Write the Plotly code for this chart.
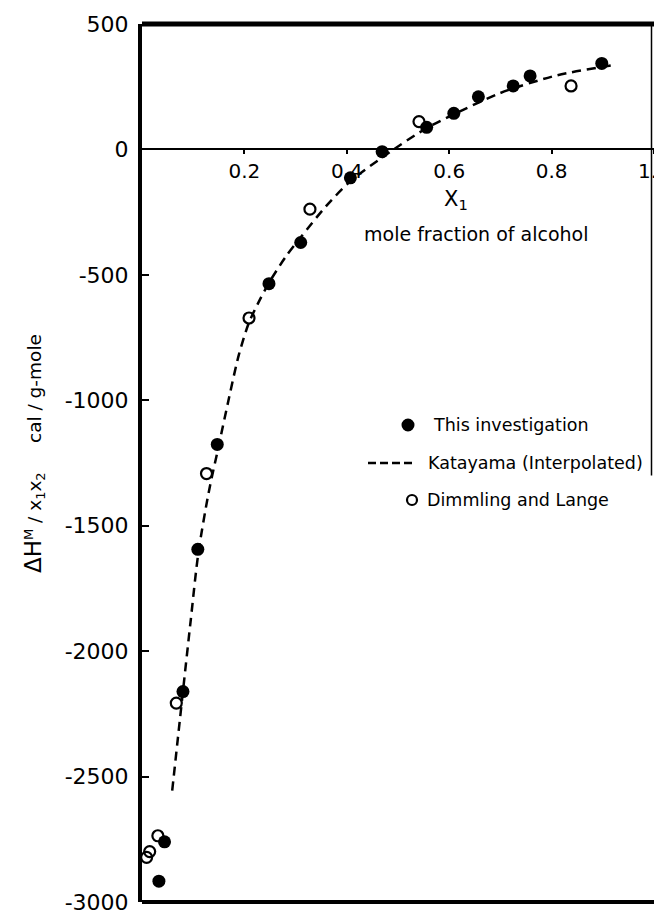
import plotly.graph_objects as go

# ---- data ----
this_x = [0.033, 0.044, 0.080, 0.109, 0.147, 0.248, 0.310, 0.407, 0.469, 0.556, 0.609, 0.657, 0.725, 0.758, 0.898]
this_y = [-2917, -2760, -2161, -1594, -1176, -535, -371, -113, -9, 88, 144, 210, 253, 293, 343]

dl_x = [0.009, 0.015, 0.031, 0.067, 0.126, 0.209, 0.328, 0.541, 0.838]
dl_y = [-2822, -2799, -2736, -2207, -1292, -672, -238, 111, 253]

kat_x = [0.059, 0.080, 0.095, 0.110, 0.130, 0.150, 0.170, 0.189, 0.209, 0.230, 0.250, 0.280,
         0.310, 0.360, 0.408, 0.465, 0.500, 0.556, 0.609, 0.700, 0.810, 0.918]
kat_y = [-2556, -2160, -1880, -1610, -1370, -1180, -990, -820, -690, -600, -525, -430,
         -350, -225, -125, -38, 12, 85, 140, 225, 295, 335]

y_ticks = [500, 0, -500, -1000, -1500, -2000, -2500, -3000]
y_ticktext = ["500", "0", "-500", "-1000", "-1500", "-2000", "-2500", "-3000"]
x_ticks = [0.2, 0.4, 0.6, 0.8, 1.0]
x_ticktext = ["0.2", "0.4", "0.6", "0.8", "1.0"]

legend_names = ["This investigation", "Katayama (Interpolated)", "Dimmling and Lange"]

# ---- layout geometry (pixels) ----
W, H = 654, 910
ML, MR, MT, MB = 142, 0, 24, 8
PW, PH = W - ML - MR, H - MT - MB
FONT = "DejaVu Sans"


def px(x):
    return (x - ML) / PW


def py(y):
    return (H - MB - y) / PH


fig = go.Figure()
fig.add_trace(go.Scatter(x=kat_x, y=kat_y, mode="lines", name=legend_names[1],
                         line=dict(color="black", width=2.5, dash="9px,6px", shape="spline", smoothing=0.8),
                         showlegend=False))
fig.add_trace(go.Scatter(x=this_x, y=this_y, mode="markers", name=legend_names[0],
                         marker=dict(symbol="circle", size=13, color="black"),
                         showlegend=False))
fig.add_trace(go.Scatter(x=dl_x, y=dl_y, mode="markers", name=legend_names[2],
                         marker=dict(symbol="circle-open", size=11, color="black",
                                     line=dict(width=2.2, color="black")),
                         showlegend=False))

shapes = [
    # top frame (thick)
    dict(type="line", xref="paper", yref="paper", x0=0, x1=1, y0=1, y1=1,
         line=dict(color="black", width=5)),
    # bottom frame
    dict(type="line", xref="paper", yref="paper", x0=0, x1=1, y0=0, y1=0,
         line=dict(color="black", width=4)),
    # thin right edge
    dict(type="line", xref="paper", yref="y", x0=px(651.5), x1=px(651.5), y0=500, y1=-1300,
         line=dict(color="black", width=1.5)),
    # legend glyphs
    dict(type="circle", xref="paper", yref="paper",
         x0=px(401.5), x1=px(414.5), y0=py(431.5), y1=py(418.5),
         fillcolor="black", line=dict(color="black", width=0)),
    dict(type="line", xref="paper", yref="paper", x0=px(368), x1=px(412), y0=py(463), y1=py(463),
         line=dict(color="black", width=2.5, dash="8px,4px")),
    dict(type="circle", xref="paper", yref="paper",
         x0=px(407), x1=px(417), y0=py(505), y1=py(495),
         line=dict(color="black", width=2.2)),
]


def ann(text, x, y, size, xanchor="center", angle=0):
    return dict(text=text, xref="paper", yref="paper", x=px(x), y=py(y),
                xanchor=xanchor, yanchor="middle", textangle=angle, showarrow=False,
                font=dict(size=size, color="black", family=FONT))


annotations = [
    ann("X<sub>1</sub>", 456, 200, 21),
    ann("mole fraction of alcohol", 476, 234, 19),
    ann("<span style='font-size:23px'>ΔH</span><sup>M</sup> / x<sub>1</sub>x<sub>2</sub>"
        "     cal / g-mole", 34, 454, 18.5, angle=-90),
    ann(legend_names[0], 431, 425, 17.5, xanchor="left"),
    ann(legend_names[1], 426, 463, 17.5, xanchor="left"),
    ann(legend_names[2], 425, 500, 17.5, xanchor="left"),
]

fig.update_layout(
    width=W, height=H,
    margin=dict(l=ML, r=MR, t=MT, b=MB, pad=0, autoexpand=False),
    paper_bgcolor="white", plot_bgcolor="white",
    font=dict(family=FONT, color="black"),
    showlegend=False,
    shapes=shapes,
    annotations=annotations,
    xaxis=dict(range=[0, 1], anchor="free", position=3000 / 3500, automargin=False,
               showline=True, linewidth=2, linecolor="black",
               ticks="outside", ticklen=4, tickwidth=2, tickcolor="black",
               tickvals=x_ticks, ticktext=x_ticktext, ticklabeloverflow="allow",
               tickfont=dict(size=20, color="black", family=FONT),
               ticklabelstandoff=0,
               showgrid=False, zeroline=False),
    yaxis=dict(range=[-3000, 500], automargin=False, showline=True, linewidth=4, linecolor="black",
               ticks="inside", ticklen=7, tickwidth=2, tickcolor="black",
               tickvals=y_ticks, ticktext=y_ticktext, ticklabeloverflow="allow",
               tickfont=dict(size=22, color="black", family=FONT),
               ticklabelstandoff=5,
               showgrid=False, zeroline=False),
)

fig.write_html("out.html")
